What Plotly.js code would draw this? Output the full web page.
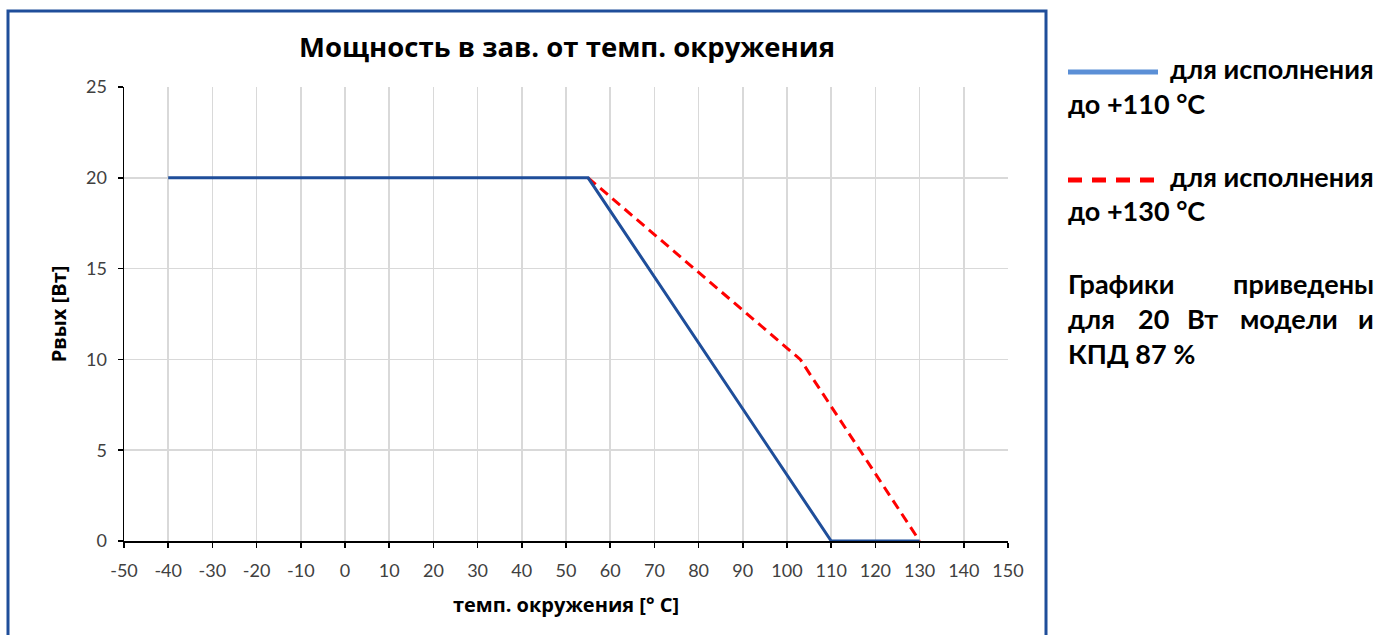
<!DOCTYPE html>
<html>
<head>
<meta charset="utf-8">
<script src="https://cdn.plot.ly/plotly-3.0.1.min.js"></script>
<style>html,body{margin:0;padding:0;background:#fff;}#chart{width:1379px;height:635px;}</style>
</head>
<body>
<div id="chart"></div>
<script>
// Data
const temp110 = [-40, 55, 110, 130];
const power110 = [20, 20, 0, 0];
const temp130 = [55, 103, 130];
const power130 = [20, 10, 0];
const xTicks = [-50,-40,-30,-20,-10,0,10,20,30,40,50,60,70,80,90,100,110,120,130,140,150];
const yTicks = [0,5,10,15,20,25];

const W = 1379, H = 635;
const M = {l:124, r:W-1008, t:87, b:H-541};
const pw = W - M.l - M.r, ph = H - M.t - M.b;
const px = x => (x - M.l) / pw;
const py = y => (H - M.b - y) / ph;

const FONT = 'Lato, "Open Sans", sans-serif';
const OS = '"Open Sans", Lato, sans-serif';

const traces = [
  {x: temp130, y: power130, type:'scatter', mode:'lines',
   line:{color:'#FF0000', width:3, dash:'10px,6px'}, hoverinfo:'x+y', showlegend:false},
  {x: temp110, y: power110, type:'scatter', mode:'lines',
   line:{color:'#1F4E9A', width:3}, hoverinfo:'x+y', showlegend:false}
];

function ann(text, x, y, xanchor, extra) {
  return Object.assign({text:text, xref:'paper', yref:'paper', x:px(x), y:py(y),
    xanchor:xanchor, yanchor:'middle', showarrow:false,
    font:{family:FONT, size:27, color:'#000', weight:'bold'}}, extra||{});
}

const layout = {
  width: W, height: H,
  margin: M,
  paper_bgcolor:'#fff', plot_bgcolor:'#fff',
  showlegend:false,
  title:{text:'Мощность в зав. от темп. окружения', xref:'container', x:567/W, xanchor:'center',
         yref:'container', y:1-47/H, yanchor:'middle',
         font:{family:OS, size:27.5, color:'#000', weight:'bold'}},
  xaxis:{range:[-50,150], tickvals:xTicks, ticktext:xTicks.map(String),
    showgrid:true, gridcolor:'#D9D9D9', gridwidth:1.5,
    showline:true, linecolor:'#000', linewidth:1.5,
    ticks:'outside', ticklen:5, tickcolor:'#000', tickwidth:1.5,
    ticklabelstandoff:8,
    zeroline:false, layer:'below traces',
    tickfont:{family:FONT, size:18, color:'#404040'},
    title:{text:'темп. окружения [° С]', standoff:18,
      font:{family:OS, size:20, color:'#000', weight:'bold'}}},
  yaxis:{range:[0,25], tickvals:yTicks, ticktext:yTicks.map(String),
    showgrid:true, gridcolor:'#D9D9D9', gridwidth:1.5,
    showline:true, linecolor:'#000', linewidth:1.5,
    ticks:'outside', ticklen:5, tickcolor:'#000', tickwidth:1.5,
    ticklabelstandoff:7,
    zeroline:false, layer:'below traces',
    tickfont:{family:FONT, size:18, color:'#404040'},
    title:{text:'Рвых [Вт]', standoff:14,
      font:{family:OS, size:20, color:'#000', weight:'bold'}}},
  shapes:[
    {type:'rect', xref:'paper', yref:'paper', x0:px(8), x1:px(1046), y0:py(660), y1:py(11),
     line:{color:'#1F4E9A', width:3}, fillcolor:'rgba(0,0,0,0)', layer:'below'},
    {type:'line', xref:'paper', yref:'paper', x0:px(1068), x1:px(1158), y0:py(72), y1:py(72),
     line:{color:'#5B8FD6', width:5}},
    {type:'line', xref:'paper', yref:'paper', x0:px(1068), x1:px(1160), y0:py(180), y1:py(180),
     line:{color:'#FF0000', width:5, dash:'14px,10px'}}
  ],
  annotations:[
    ann('для исполнения', 1376, 69, 'right'),
    ann('до +110 °С', 1066, 104, 'left'),
    ann('для исполнения', 1376, 176, 'right'),
    ann('до +130 °С', 1066, 210, 'left'),
    ann('Графики', 1066, 283, 'left'),
    ann('приведены', 1376, 283, 'right'),
    ann('для', 1066, 318, 'left'),
    ann('20', 1136, 318, 'left'),
    ann('Вт', 1185, 318, 'left'),
    ann('модели', 1238, 318, 'left'),
    ann('и', 1376, 318, 'right'),
    ann('КПД 87 %', 1066, 353, 'left')
  ]
};

Plotly.newPlot('chart', traces, layout, {displayModeBar:false, staticPlot:true});
</script>
</body>
</html>
